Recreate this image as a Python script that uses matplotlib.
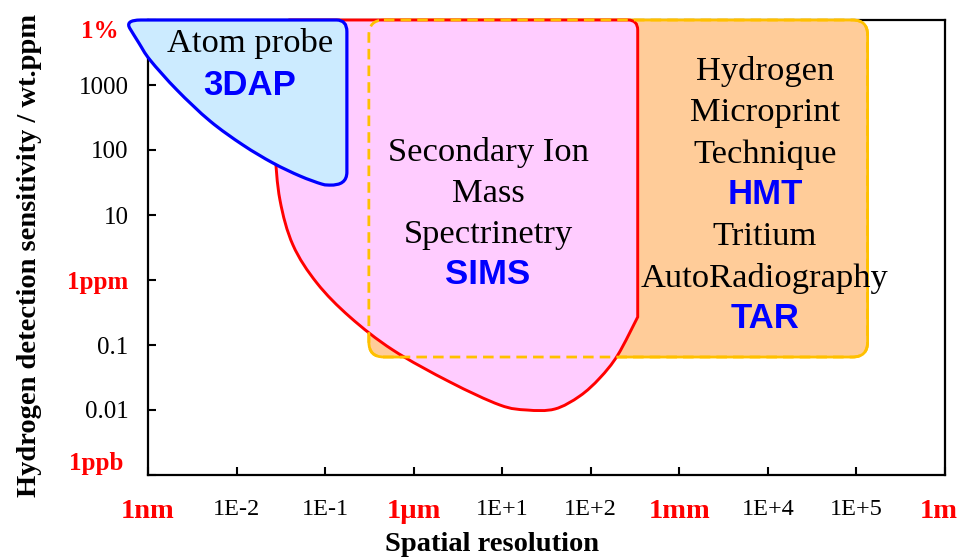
import matplotlib
matplotlib.use("Agg")
import matplotlib.pyplot as plt
import numpy as np
from matplotlib.patches import PathPatch
from matplotlib.path import Path
from matplotlib.transforms import ScaledTranslation

plt.rcParams["font.family"] = ["Liberation Serif", "DejaVu Serif"]

# axis decades: spatial resolution in um, sensitivity in wt.ppm
x_decades = [-3, -2, -1, 0, 1, 2, 3, 4, 5, 6]
x_labels = ["1nm", "1E-2", "1E-1", "1µm", "1E+1", "1E+2", "1mm", "1E+4", "1E+5", "1m"]
y_decades = [-3, -2, -1, 0, 1, 2, 3, 4]
y_labels = ["1ppb", "0.01", "0.1", "1ppm", "10", "100", "1000", "1%"]
unit_labels = {"1nm", "1µm", "1mm", "1m", "1ppb", "1ppm", "1%"}

# region outlines, log10 units (x: um, y: wt.ppm)
# M = move, L = line, Q = quadratic corner (control, end), S = smooth chain
dap_x = [-3.20, -3.27, -3.08, -0.87, -0.754, -0.754, -0.754, -0.754, -0.95,
         -1.04, -1.284, -1.589, -1.928, -2.30, -2.673, -2.977, -3.10, -3.20]
dap_y = [3.86, 4.0, 4.0, 4.0, 4.0, 3.82, 1.66, 1.45, 1.46,
         1.477, 1.60, 1.80, 2.077, 2.446, 2.923, 3.385, 3.64, 3.86]
dap_codes = "MQQLQQLQQ" + "S" * 9

sims_x = [-1.40, 2.42, 2.53, 2.53, 2.53, 2.305, 2.102, 1.876, 1.594, 1.278,
          0.973, 0.409, -0.235, -0.72, -1.093, -1.363, -1.51, -1.567, -1.578]
sims_y = [4.0, 4.0, 4.0, 3.846, -0.569, -1.154, -1.508, -1.785, -1.985, -2.0,
          -1.923, -1.569, -1.077, -0.569, -0.046, 0.538, 1.231, 2.0, 2.615]
sims_codes = "MLQQL" + "S" * (len(sims_x) - 5)

hmt_x = [-0.506, 5.126]
hmt_y = [-1.185, 4.0]


def build_path(xs, ys, codes):
    pts = np.column_stack([xs, ys]).astype(float)
    kinds = {"M": Path.MOVETO, "L": Path.LINETO, "Q": Path.CURVE3}
    verts, cods = [], []
    i = 0
    while i < len(pts):
        if codes[i] != "S":
            verts.append(pts[i])
            cods.append(kinds[codes[i]])
            i += 1
            continue
        j = i
        while j < len(pts) and codes[j] == "S":
            j += 1
        # Catmull-Rom through the chain, written as cubic Bezier pieces
        chain = pts[i - 1:j]
        ext = np.vstack([chain[:1], chain, chain[-1:]])
        for k in range(len(chain) - 1):
            p0, p1, p2, p3 = ext[k:k + 4]
            verts += [p1 + (p2 - p0) / 6, p2 - (p3 - p1) / 6, p2]
            cods += [Path.CURVE4] * 3
        i = j
    verts.append(pts[0])
    cods.append(Path.CLOSEPOLY)
    return Path(10.0 ** np.array(verts), cods)


def rounded_box(xr, yr, rx=0.17, ry=0.23):
    x0, x1 = xr
    y0, y1 = yr
    xs = [x0 + rx, x1 - rx, x1, x1, x1, x1, x1 - rx, x0 + rx, x0, x0, x0, x0, x0 + rx]
    ys = [y1, y1, y1, y1 - ry, y0 + ry, y0, y0, y0, y0, y0 + ry, y1 - ry, y1, y1]
    return build_path(xs, ys, "MLQQLQQLQQLQQ")


fig = plt.figure(figsize=(9.62, 5.59), dpi=100)
ax = fig.add_axes([148 / 962, 84 / 559, 797 / 962, 455 / 559])
ax.set_xscale("log")
ax.set_yscale("log")
ax.set_xlim(1e-3, 1e6)
ax.set_ylim(1e-3, 1e4)

box = rounded_box(hmt_x, hmt_y)
ax.add_patch(PathPatch(box, facecolor="#FFCC99", edgecolor="#FFC000",
                       lw=2.0, zorder=3, clip_on=False))
ax.add_patch(PathPatch(build_path(sims_x, sims_y, sims_codes), facecolor="#FFCCFF",
                       edgecolor="#FF0000", lw=2.1, zorder=4, clip_on=False))
ax.add_patch(PathPatch(box, facecolor="none", edgecolor="#FFC000", lw=2.0,
                       linestyle=(0, (3.8, 2.2)), zorder=5, clip_on=False))
ax.add_patch(PathPatch(build_path(dap_x, dap_y, dap_codes), facecolor="#CCEBFF",
                       edgecolor="#0000FF", lw=2.3, zorder=6, clip_on=False,
                       joinstyle="round"))

serif = dict(fontsize=24.8, color="black", ha="center", va="baseline",
             transform=ax.transAxes, zorder=7)
sans = dict(fontsize=25, color="#0000FF", ha="center", va="baseline",
            fontweight="bold", family="Liberation Sans",
            transform=ax.transAxes, zorder=7)

ax.text(0.128, 0.930, "Atom probe", **serif)
ax.text(0.127, 0.835, "3DAP", **sans)

sims_lines = ["Secondary Ion", "Mass", "Spectrinetry", "SIMS"]
for i, line in enumerate(sims_lines):
    style = sans if line.isupper() else serif
    ax.text(0.4266, 0.690 - i * 0.0901, line, **style)

hmt_lines = ["Hydrogen", "Microprint", "Technique", "HMT",
             "Tritium", "AutoRadiography", "TAR"]
for i, line in enumerate(hmt_lines):
    style = sans if line.isupper() else serif
    ax.text(0.774, 0.868 - i * 0.0908, line, **style)

ax.set_xticks([10.0 ** d for d in x_decades])
ax.set_xticklabels(x_labels)
ax.set_yticks([10.0 ** d for d in y_decades])
ax.set_yticklabels(y_labels)
ax.minorticks_off()
ax.tick_params(axis="x", direction="in", length=6, width=1.5, pad=17, labelsize=17.5)
ax.tick_params(axis="y", direction="in", length=6, width=1.5, pad=14, labelsize=18)


def nudge(lbl, dx_px):
    lbl.set_transform(lbl.get_transform() + ScaledTranslation(dx_px / 100, 0, fig.dpi_scale_trans))


for lbl in ax.get_xticklabels() + ax.get_yticklabels():
    if lbl.get_text() in unit_labels:
        lbl.set_color("#FF0000")
        lbl.set_fontweight("bold")
for lbl in ax.get_xticklabels():
    if lbl.get_text() in unit_labels:
        lbl.set_fontsize(20.5)
    if lbl.get_text() == "1m":
        nudge(lbl, -6)
for lbl in ax.get_yticklabels():
    if lbl.get_text() == "1%":
        lbl.set_va("top")
        nudge(lbl, -10)
    elif lbl.get_text() == "1ppb":
        lbl.set_va("bottom")
        nudge(lbl, -5)

for s in ax.spines.values():
    s.set_linewidth(1.6)

ax.set_xlabel("Spatial resolution", fontsize=20.5, fontweight="bold")
ax.xaxis.set_label_coords(0.432, -0.125)
ax.set_ylabel("Hydrogen detection sensitivity / wt.ppm", fontsize=20.5,
              fontweight="bold")
ax.yaxis.set_label_coords(-0.133, 0.483)

fig.savefig("out.png", dpi=100)
